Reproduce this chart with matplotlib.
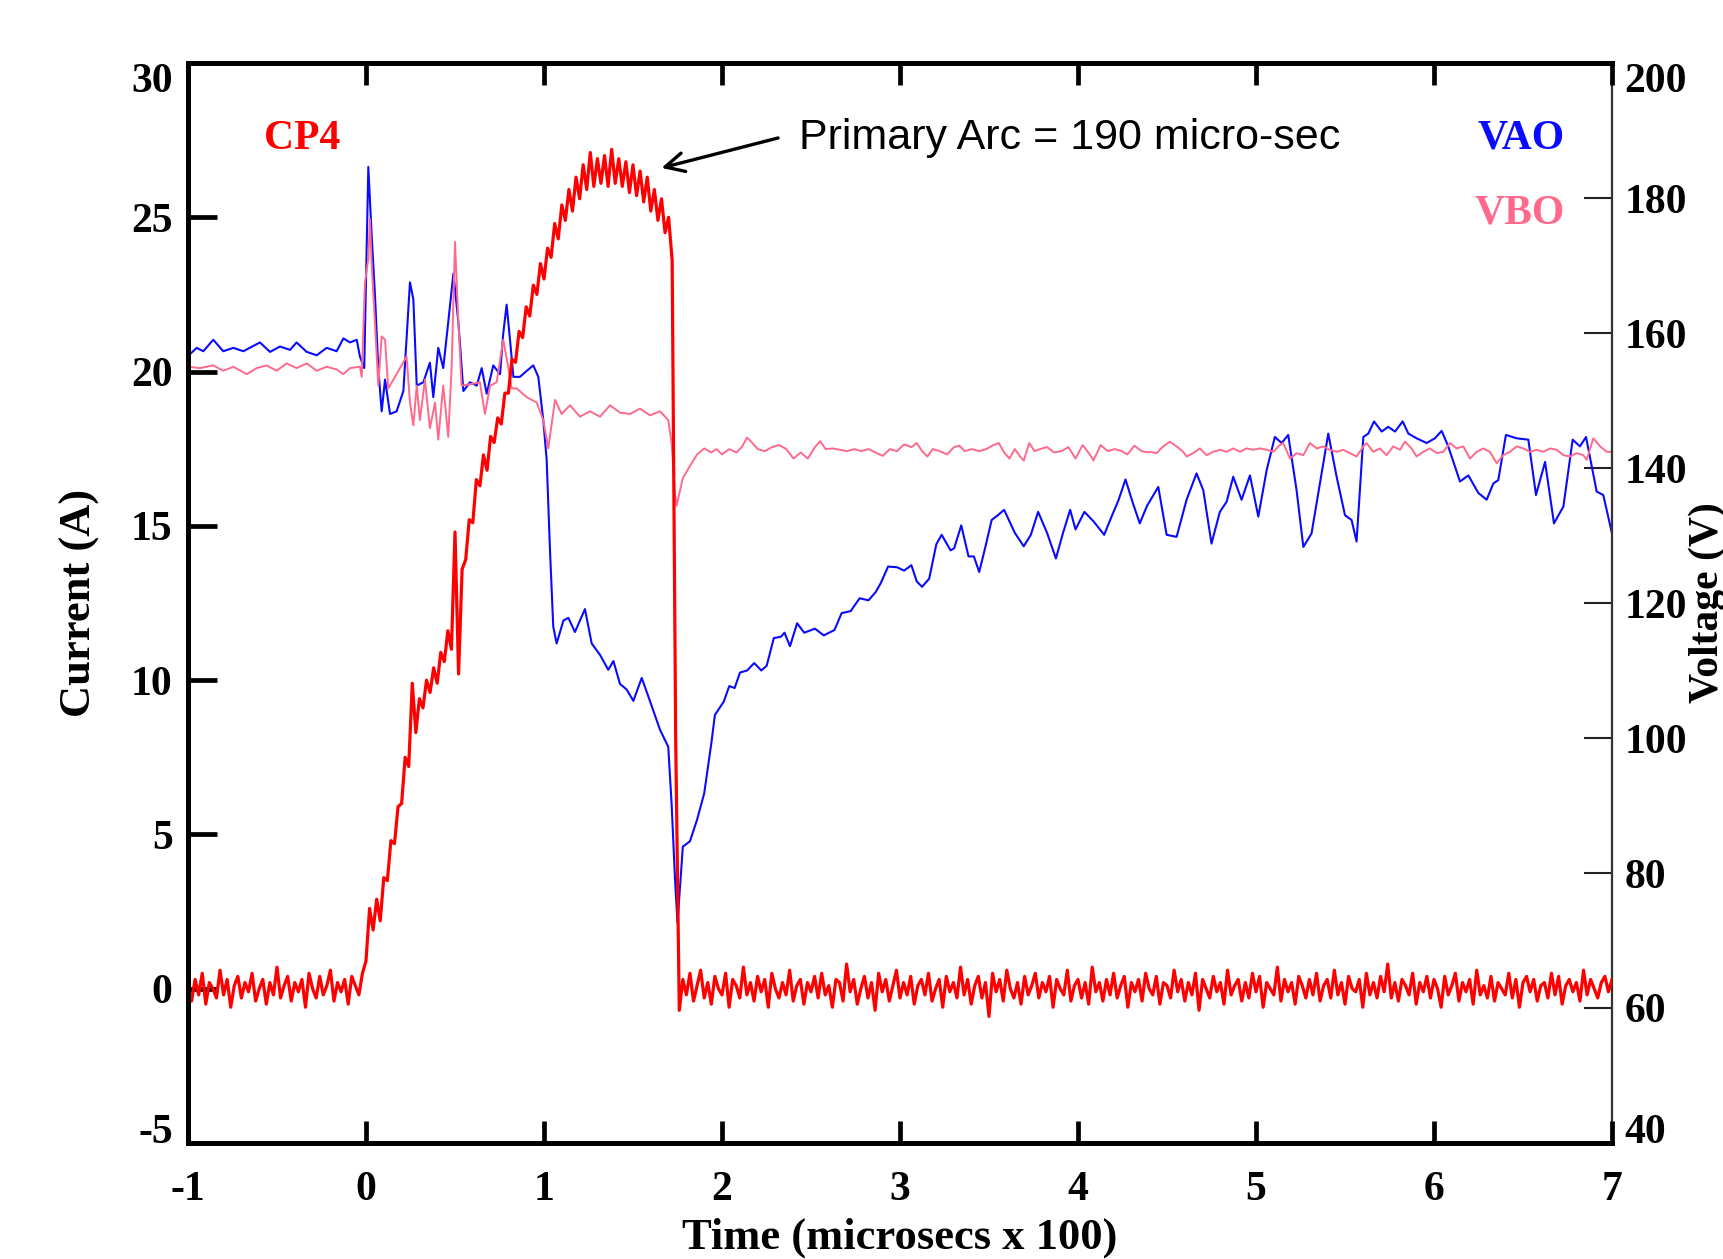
import matplotlib
matplotlib.use("Agg")
import matplotlib.pyplot as plt
import numpy as np


# CP4 current (A), sampled every 0.02 (time in microsecs x 100)
cp4_pre = [
    0.1, -0.4, 0.3, -0.2, 0.5, -0.5, 0.2, 0.0, -0.3, 0.6,
    -0.2, 0.3, -0.6, 0.1, 0.4, -0.3, 0.2, -0.1, 0.5, -0.4,
    0.0, 0.3, -0.5, 0.2, -0.2, 0.7, -0.3, 0.1, 0.4, -0.4,
    0.2, -0.1, 0.3, -0.6, 0.5, 0.0, -0.3, 0.4, -0.2, 0.1,
    0.6, -0.4, 0.2, -0.1, 0.3, -0.5, 0.4, 0.1, -0.2, 0.5,
]
cp4_arc = [
    0.9, 2.6, 1.9, 2.9, 2.2, 3.6, 3.5, 4.8, 4.7, 5.9,
    6.0, 7.5, 7.2, 9.9, 8.3, 9.4, 9.1, 10.0, 9.6, 10.4,
    9.9, 10.9, 10.6, 11.6, 11.0, 14.8, 10.2, 13.6, 13.9, 15.2,
    15.1, 16.5, 16.3, 17.3, 16.8, 17.9, 17.7, 18.5, 18.3, 19.3,
    19.3, 20.4, 20.3, 21.3, 21.1, 22.1, 21.8, 22.8, 22.5, 23.5,
    23.0, 24.0, 23.7, 24.8, 24.3, 25.4, 24.9, 25.9, 25.2, 26.3,
    25.6, 26.7, 25.9, 27.1, 26.0, 26.9, 26.1, 27.0, 26.0, 27.2,
    26.1, 26.9, 26.0, 26.8, 25.8, 26.7, 25.7, 26.5, 25.5, 26.3,
    25.2, 25.9, 24.9, 25.6, 24.5, 25.0, 23.6, 8.0,
]
cp4_post = [
    -0.7, 0.3, -0.2, 0.5, -0.4, 0.1, 0.6, -0.3, 0.2, -0.5, 0.4, 0.0, -0.2, 0.5, -0.6, 0.3, 0.1, -0.3, 0.7, -0.2,
    0.2, -0.4, 0.4, -0.1, 0.3, -0.6, 0.5, 0.0, -0.3, 0.2, -0.2, 0.6, -0.4, 0.1, 0.3, -0.5, 0.2, -0.1, 0.4, -0.3,
    0.5, -0.2, 0.1, -0.6, 0.3, 0.2, -0.4, 0.8, -0.1, 0.3, -0.5, 0.0, 0.4, -0.3, 0.2, -0.7, 0.5, -0.1, 0.3, -0.4,
    0.1, 0.6, -0.3, 0.2, -0.2, 0.4, -0.5, 0.1, 0.3, -0.2, 0.5, -0.4, 0.0, 0.3, -0.6, 0.4, -0.1, 0.2, -0.3, 0.7,
    -0.2, 0.3, -0.5, 0.1, 0.4, -0.3, 0.2, -0.9, 0.5, -0.1, 0.3, -0.4, 0.6, 0.0, -0.3, 0.2, -0.5, 0.4, -0.2, 0.1,
    0.5, -0.3, 0.2, -0.1, 0.4, -0.6, 0.3, 0.0, -0.2, 0.6, -0.4, 0.1, 0.3, -0.3, 0.2, -0.5, 0.7, -0.1, 0.2, -0.4,
    0.3, -0.2, 0.5, -0.3, 0.1, 0.4, -0.6, 0.2, -0.1, 0.3, -0.4, 0.5, 0.0, -0.2, 0.4, -0.5, 0.2, 0.1, -0.3, 0.6,
    -0.1, 0.3, -0.4, 0.2, -0.2, 0.5, -0.7, 0.3, 0.0, -0.3, 0.4, -0.1, 0.2, -0.5, 0.6, -0.2, 0.1, 0.3, -0.4, 0.2,
    -0.3, 0.5, -0.1, 0.4, -0.6, 0.2, 0.0, -0.2, 0.7, -0.4, 0.3, -0.1, 0.2, -0.5, 0.4, 0.1, -0.3, 0.3, -0.2, 0.5,
    -0.4, 0.1, 0.3, -0.3, 0.6, -0.2, 0.2, -0.5, 0.4, 0.0, -0.1, 0.3, -0.6, 0.5, -0.2, 0.2, -0.3, 0.4, -0.1, 0.8,
    -0.3, 0.2, -0.4, 0.3, 0.1, -0.2, 0.5, -0.5, 0.2, -0.1, 0.4, -0.3, 0.3, 0.0, -0.6, 0.4, -0.2, 0.1, 0.5, -0.4,
    0.2, -0.1, 0.3, -0.5, 0.6, -0.2, 0.1, -0.3, 0.4, -0.4, 0.2, 0.0, -0.2, 0.5, -0.3, 0.3, -0.6, 0.2, 0.4, -0.1,
    0.3, -0.4, 0.1, 0.2, -0.3, 0.5, -0.2, 0.4, -0.5, 0.1, 0.3, -0.1, 0.2, -0.4, 0.6, -0.2, 0.3, 0.0, -0.3, 0.2,
    0.4, -0.1, 0.3,
]

# VAO voltage (V)
vao_time = [
    -1.000, -0.951, -0.914, -0.858, -0.802, -0.745, -0.689, -0.596, -0.539, -0.483,
    -0.427, -0.390, -0.333, -0.277, -0.221, -0.165, -0.127, -0.090, -0.052, -0.034,
    -0.010, 0.013, 0.032, 0.050, 0.069, 0.088, 0.107, 0.135, 0.172, 0.210,
    0.247, 0.266, 0.285, 0.322, 0.359, 0.378, 0.406, 0.434, 0.462, 0.491,
    0.519, 0.547, 0.584, 0.622, 0.650, 0.678, 0.715, 0.753, 0.771, 0.790,
    0.809, 0.828, 0.865, 0.903, 0.940, 0.968, 0.996, 1.015, 1.034, 1.052,
    1.071, 1.109, 1.137, 1.174, 1.230, 1.268, 1.315, 1.361, 1.390, 1.427,
    1.464, 1.502, 1.549, 1.595, 1.652, 1.698, 1.717, 1.736, 1.750,
    1.780, 1.820, 1.860, 1.900, 1.940, 1.960, 2.010, 2.041, 2.071, 2.101,
    2.141, 2.181, 2.221, 2.251, 2.291, 2.331, 2.351, 2.382, 2.422, 2.462,
    2.522, 2.572, 2.632, 2.672, 2.723, 2.773, 2.823, 2.863, 2.893, 2.933,
    2.983, 3.023, 3.064, 3.094, 3.124, 3.164, 3.204, 3.234, 3.284, 3.304,
    3.344, 3.385, 3.415, 3.445, 3.475, 3.515, 3.545, 3.585, 3.645, 3.695,
    3.735, 3.776, 3.826, 3.876, 3.916, 3.956, 3.986, 4.036, 4.087, 4.147,
    4.187, 4.227, 4.267, 4.307, 4.347, 4.388,
    4.451, 4.498, 4.554, 4.610, 4.666, 4.704, 4.750, 4.797, 4.835, 4.872,
    4.919, 4.966, 5.013, 5.060, 5.106, 5.144, 5.181, 5.228, 5.266, 5.312,
    5.359, 5.406, 5.453, 5.500, 5.537, 5.565, 5.603, 5.631, 5.663, 5.706,
    5.743, 5.781, 5.824, 5.856, 5.902, 5.959, 6.005, 6.043, 6.080, 6.146,
    6.193, 6.249, 6.296, 6.333, 6.361, 6.404, 6.464, 6.530, 6.573, 6.624,
    6.674, 6.727, 6.779, 6.820, 6.854, 6.914, 6.951, 7.000,
]
vao_volt = [
    156.6, 157.8, 157.3, 159.0, 157.3, 157.8, 157.3, 158.6, 157.2, 158.0,
    157.5, 158.6, 157.2, 156.7, 157.8, 157.3, 159.2, 158.6, 159.0, 156.5,
    154.8, 184.6, 174.4, 165.8, 154.8, 148.4, 153.1, 148.0, 148.4, 151.4,
    167.5, 165.0, 152.2, 152.7, 155.6, 150.5, 157.8, 154.8, 161.6, 168.8,
    161.6, 151.4, 152.7, 152.2, 154.8, 151.0, 155.2, 153.9, 159.9, 164.2,
    159.0, 153.5, 153.5, 154.4, 155.2, 153.5, 147.1, 141.2, 127.6, 116.5,
    114.0, 117.4, 117.8, 115.7, 119.1, 114.0, 112.3, 110.1, 111.4, 108.0,
    107.2, 105.5, 108.9, 105.5, 101.2, 98.7, 90.2, 79.1, 72.6,
    83.9, 84.7, 87.9, 91.8, 99.2, 103.4, 105.4, 107.7, 107.4, 109.7,
    110.0, 111.1, 110.0, 110.7, 114.8, 115.0, 115.6, 113.6, 117.0, 115.6,
    116.2, 115.2, 116.0, 118.5, 118.8, 120.7, 120.4, 121.6, 123.0, 125.4,
    125.3, 124.8, 125.6, 123.2, 122.4, 123.6, 128.7, 130.1, 127.8, 128.1,
    131.5, 126.9, 126.9, 124.6, 127.8, 132.3, 132.9, 133.8, 130.4, 128.4,
    130.1, 133.5, 130.4, 126.6, 130.4, 133.8, 130.9, 133.5, 132.1, 130.1,
    132.7, 135.2, 138.3, 134.9, 131.8, 134.4,
    137.2, 130.1, 129.8, 135.3, 139.2, 136.7, 128.8, 133.5, 135.0, 138.7,
    135.3, 138.9, 132.8, 139.7, 144.6, 143.7, 144.9, 136.7, 128.3, 130.3,
    137.7, 145.1, 138.7, 133.0, 132.3, 129.1, 144.6, 145.1, 146.9, 145.4,
    146.1, 145.4, 146.9, 145.1, 144.4, 143.7, 144.4, 145.5, 143.2, 138.0,
    138.9, 136.3, 135.3, 137.7, 138.2, 144.9, 144.4, 144.2, 136.0, 140.9,
    131.8, 134.3, 144.2, 143.2, 144.6, 136.5, 136.0, 130.3,
]

# VBO voltage (V)
vbo_time = [
    -1.000, -0.933, -0.858, -0.802, -0.745, -0.670, -0.614, -0.558, -0.502, -0.446,
    -0.390, -0.333, -0.277, -0.221, -0.165, -0.127, -0.090, -0.034, -0.024, -0.006,
    0.013, 0.022, 0.032, 0.050, 0.069, 0.088, 0.107, 0.125, 0.154, 0.191,
    0.228, 0.247, 0.266, 0.285, 0.303, 0.331, 0.359, 0.388, 0.406, 0.434,
    0.462, 0.481, 0.500, 0.519, 0.537, 0.584, 0.640, 0.668, 0.697, 0.734,
    0.771, 0.800, 0.818, 0.846, 0.903, 0.959, 0.996, 1.024, 1.062, 1.099,
    1.146, 1.202, 1.258, 1.315, 1.371, 1.427, 1.483, 1.539, 1.595, 1.652,
    1.698, 1.717, 1.736, 1.745,
    1.780, 1.820, 1.860, 1.900, 1.940, 1.970, 2.000, 2.041, 2.081, 2.111,
    2.141, 2.171, 2.201, 2.241, 2.281, 2.321, 2.361, 2.402, 2.442, 2.482,
    2.522, 2.552, 2.582, 2.622, 2.662, 2.702, 2.743, 2.783, 2.823, 2.863,
    2.903, 2.943, 2.983, 3.023, 3.064, 3.094, 3.124, 3.154, 3.184, 3.224,
    3.264, 3.304, 3.334, 3.364, 3.405, 3.445, 3.485, 3.525, 3.555, 3.585,
    3.615, 3.645, 3.675, 3.695, 3.726, 3.756, 3.786, 3.826, 3.866, 3.906,
    3.946, 3.986, 4.026, 4.067, 4.087, 4.127, 4.167, 4.207, 4.247, 4.277,
    4.317, 4.357, 4.398,
    4.404, 4.441, 4.479, 4.516, 4.554, 4.591, 4.610, 4.647, 4.685, 4.722,
    4.760, 4.797, 4.835, 4.872, 4.910, 4.947, 4.985, 5.022, 5.060, 5.097,
    5.134, 5.153, 5.191, 5.228, 5.266, 5.303, 5.341, 5.378, 5.415, 5.453,
    5.490, 5.528, 5.565, 5.603, 5.621, 5.659, 5.696, 5.734, 5.771, 5.809,
    5.837, 5.874, 5.902, 5.940, 5.977, 6.015, 6.052, 6.090, 6.127, 6.165,
    6.202, 6.240, 6.277, 6.314, 6.352, 6.389, 6.427, 6.464, 6.502, 6.539,
    6.577, 6.614, 6.652, 6.689, 6.727, 6.764, 6.801, 6.839, 6.858, 6.895,
    6.933, 6.970, 7.000,
]
vbo_volt = [
    155.0, 154.8, 155.2, 154.4, 155.0, 153.9, 154.8, 155.2, 154.4, 155.5,
    154.8, 155.5, 154.4, 155.0, 154.6, 153.9, 154.8, 155.0, 153.5, 167.5,
    171.0, 176.9, 170.1, 161.6, 152.2, 159.5, 159.0, 151.8, 153.1, 154.8,
    156.5, 149.7, 146.3, 152.2, 147.1, 153.1, 145.9, 149.7, 144.2, 152.2,
    144.6, 154.8, 173.5, 161.6, 152.2, 152.4, 152.7, 148.0, 152.2, 152.7,
    159.0, 154.8, 151.8, 151.8, 150.5, 149.7, 147.1, 142.9, 150.1, 148.0,
    149.3, 147.6, 148.4, 147.6, 149.3, 148.2, 148.0, 148.8, 147.8, 148.4,
    147.1, 143.7, 136.1, 134.4,
    138.5, 140.3, 142.0, 142.9, 142.3, 142.8, 142.0, 142.8, 142.3, 143.1,
    144.5, 143.7, 142.8, 142.5, 143.1, 143.4, 142.8, 141.4, 142.3, 141.4,
    143.1, 143.97, 142.8, 142.9, 142.7, 142.5, 142.8, 142.5, 142.8, 142.3,
    141.8, 142.8, 142.5, 143.5, 143.1, 143.7, 142.5, 141.7, 142.8, 142.5,
    142.0, 143.1, 143.3, 142.5, 142.8, 142.5, 142.8, 143.4, 143.7, 142.3,
    141.4, 142.8, 141.7, 141.1, 143.7, 142.5, 142.8, 143.1, 142.3, 142.5,
    143.1, 141.4, 143.4, 142.0, 141.1, 143.4, 142.5, 142.8, 142.5, 142.0,
    143.3, 142.5, 142.3,
    142.4, 142.2, 143.2, 143.9, 143.2, 142.4, 141.7, 142.2, 142.9, 141.9,
    142.4, 142.7, 142.4, 142.9, 142.4, 142.9, 142.7, 142.9, 142.7, 142.4,
    143.4, 143.7, 141.4, 142.2, 141.9, 143.7, 142.9, 143.2, 142.7, 142.4,
    142.7, 142.2, 141.7, 143.2, 143.7, 142.4, 142.9, 141.9, 143.2, 142.7,
    143.9, 142.9, 141.7, 142.4, 142.9, 142.2, 142.4, 143.7, 142.9, 143.2,
    141.4, 142.4, 142.9, 142.4, 140.7, 141.9, 142.4, 143.2, 142.9, 142.4,
    142.7, 142.4, 142.9, 142.7, 141.9, 141.7, 142.2, 141.9, 141.2, 144.4,
    143.2, 142.4, 142.4,
]

x_ticks = list(range(-1, 8))
current_ticks = list(range(-5, 31, 5))
voltage_ticks = list(range(40, 201, 20))

RED = "#FF0000"
BLUE = "#0A0AFF"
PINK = "#FF6A8C"


def main() -> None:
    plt.rcParams.update({
        "font.family": "Liberation Serif",
        "font.weight": "bold",
        "axes.labelweight": "bold",
        "font.size": 29,
    })

    cp4_time = np.concatenate([
        np.linspace(-1.0, -0.02, len(cp4_pre)),
        np.linspace(0.0, 1.74, len(cp4_arc)),
        np.linspace(1.76, 7.0, len(cp4_post)),
    ])
    cp4_current = np.concatenate([cp4_pre, cp4_arc, cp4_post])

    fig = plt.figure(figsize=(17.24, 12.59), dpi=100)
    ax = fig.add_axes([188 / 1724, 1 - 1143 / 1259, 1424 / 1724, 1080 / 1259])
    ax2 = ax.twinx()

    ax2.plot(vao_time, vao_volt, color=BLUE, linewidth=1.5)
    ax2.plot(vbo_time, vbo_volt, color=PINK, linewidth=1.4)
    ax.plot(cp4_time, cp4_current, color=RED, linewidth=2.3)

    ax.set_zorder(ax2.get_zorder() + 1)
    ax.patch.set_visible(False)

    ax.set_xlim(-1, 7)
    ax.set_ylim(-5, 30)
    ax2.set_ylim(40, 200)
    ax.set_xticks(x_ticks, [str(v) for v in x_ticks])
    ax.set_yticks(current_ticks, [str(v) for v in current_ticks])
    ax2.set_yticks(voltage_ticks, [str(v) for v in voltage_ticks])

    for side in ["top", "left", "bottom"]:
        ax.spines[side].set_linewidth(3.6)
    ax.spines["right"].set_visible(False)
    for side in ["top", "left", "bottom"]:
        ax2.spines[side].set_visible(False)
    ax2.spines["right"].set_linewidth(1.6)
    ax2.spines["right"].set_color("#333333")

    ax.tick_params(axis="x", direction="in", length=16, width=3.4, pad=20,
                   labelsize=30, top=True, bottom=True)
    ax.tick_params(axis="y", direction="in", length=21, width=3.4, pad=11,
                   labelsize=30, left=True, right=False)
    ax2.tick_params(axis="y", direction="in", length=20, width=1.5, pad=9,
                    labelsize=30, color="#222222")

    left_labels = ax.get_yticklabels()
    left_labels[0].set_va("baseline")
    left_labels[-1].set_va("top")
    right_labels = ax2.get_yticklabels()
    right_labels[0].set_va("baseline")
    right_labels[-1].set_va("top")

    ax.set_xlabel("Time (microsecs x 100)", fontsize=32, fontweight="bold", va="baseline")
    ax.xaxis.set_label_coords(0.5, -0.098)
    ax.set_ylabel("Current (A)", fontsize=32, fontweight="bold", va="center")
    ax.yaxis.set_label_coords(-0.076, 0.5)
    ax2.set_ylabel("Voltage (V)", fontsize=30, fontweight="bold", va="center", rotation=90)
    ax2.yaxis.set_label_coords(1.0675, 0.5)

    ax.text(-0.36, 27.55, "CP4", color=RED, fontsize=30, ha="center", va="center")
    ax.text(6.49, 27.55, "VAO", color=BLUE, fontsize=30, ha="center", va="center")
    ax.text(6.48, 25.13, "VBO", color=PINK, fontsize=30, ha="center", va="center")

    ax.annotate("", xy=(1.66, 26.6), xytext=(2.315, 27.57),
                arrowprops=dict(arrowstyle="->", color="black", lw=2.4,
                                mutation_scale=34, shrinkA=0, shrinkB=0))
    ax.text(2.433, 27.57, "Primary Arc = 190 micro-sec", family="Liberation Sans",
            fontweight="normal", fontsize=31, ha="left", va="center")

    fig.savefig("out.png", dpi=100)


if __name__ == "__main__":
    main()
